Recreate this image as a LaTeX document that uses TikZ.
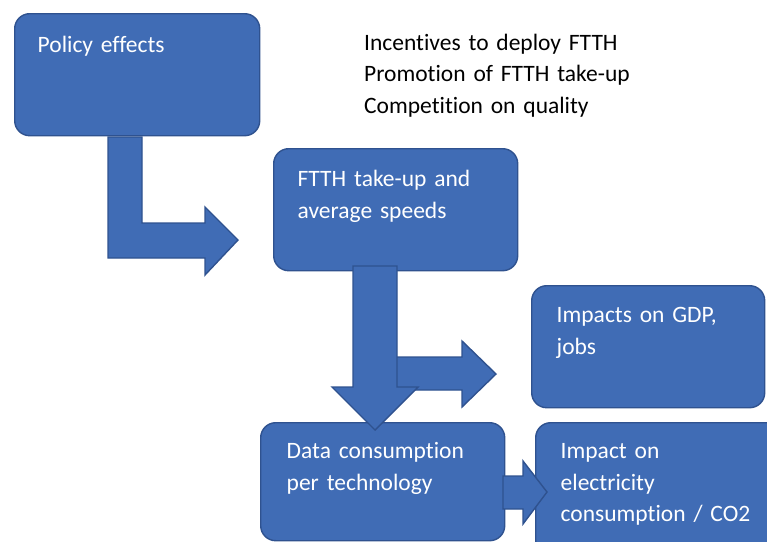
\documentclass[tikz,border=0pt]{standalone}
\usepackage{fontspec}
\setmainfont{Carlito}[Ligatures=NoCommon]
\definecolor{boxblue}{RGB}{64,108,181}
\definecolor{edgeblue}{RGB}{47,82,143}
\usepackage{tikz}

\begin{document}
\begin{tikzpicture}[
  x=1pt, y=-1pt,
  box/.style={draw=edgeblue, fill=boxblue, line width=1.4pt, rounded corners=15pt, anchor=north west, align=left, inner ysep=0pt, text=white, font=\fontsize{23.5}{31.5}\selectfont},
  note/.style={anchor=base west, align=left, text width=300pt, inner sep=0pt, font=\fontsize{23.5}{31.5}\selectfont},
  blockarrow/.style={draw=edgeblue, fill=boxblue, line width=1.4pt, line join=miter}
]
  \useasboundingbox (0,0) rectangle (767,541);

  % boxes: text height/depth fix the top and bottom edges
  \node[box, inner xsep=23pt, text width=199pt, text height=39pt, text depth=83pt] (policy) at (14,13) {Policy effects};
  \node[box, inner xsep=24pt, text width=196pt, text height=38pt, text depth=84pt] (takeup) at (273,148) {FTTH take-up and\\average speeds};
  \node[box, inner xsep=25pt, text width=183pt, text height=37pt, text depth=85pt] (gdp) at (531,285) {Impacts on GDP,\\jobs};
  \node[box, inner xsep=26pt, text width=192pt, text height=36pt, text depth=82pt] (data) at (260,422) {Data consumption\\per technology};
  \node[box, inner xsep=25pt, text width=205pt, text height=36pt, text depth=97pt] (energy) at (535,422) {Impact on\\electricity\\consumption / CO2};

  \node[note] (levers) at (364,50) {Incentives to deploy FTTH\\Promotion of FTTH take-up\\Competition on quality};

  % bent arrow policy -> take-up
  \draw[blockarrow] (108,137) -- (142,137) -- (142,223) -- (205,223) -- (205,207) -- (238,240)
    -- (205,275) -- (205,258) -- (108,258) -- cycle;
  % side arrow towards gdp, under the down arrow
  \draw[blockarrow] (390,357) -- (462,357) -- (462,341) -- (496,374) -- (462,407) -- (462,390) -- (390,390) -- cycle;
  % take-up -> data
  \draw[blockarrow] (353,266) -- (397,266) -- (397,387) -- (418,387) -- (375,430) -- (332,387) -- (353,387) -- cycle;
  % data -> energy
  \draw[blockarrow] (503,476) -- (523,476) -- (523,461) -- (547,492) -- (523,524) -- (523,509) -- (503,509) -- cycle;
\end{tikzpicture}
\end{document}
